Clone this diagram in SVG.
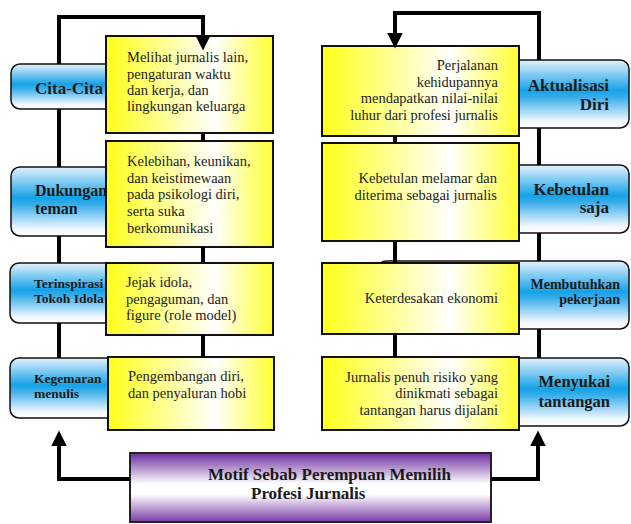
<svg xmlns="http://www.w3.org/2000/svg" width="631" height="524" viewBox="0 0 631 524">
<defs>
<linearGradient id="gBlue" x1="0" y1="0" x2="0" y2="1">
<stop offset="0" stop-color="#e4f1fc"/>
<stop offset="0.45" stop-color="#14a2e7"/>
<stop offset="0.55" stop-color="#3aaeea"/>
<stop offset="0.9" stop-color="#f2f8ff"/>
<stop offset="1" stop-color="#ffffff"/>
</linearGradient>
<linearGradient id="gYellow" x1="0" y1="0" x2="1" y2="0">
<stop offset="0" stop-color="#ffff1a"/>
<stop offset="0.65" stop-color="#ffffff"/>
<stop offset="1" stop-color="#ffff33"/>
</linearGradient>
<linearGradient id="gPurple" x1="0" y1="0" x2="0" y2="1">
<stop offset="0" stop-color="#6b2d9e"/>
<stop offset="0.45" stop-color="#ffffff"/>
<stop offset="0.6" stop-color="#ffffff"/>
<stop offset="1" stop-color="#7a3aa8"/>
</linearGradient>
<marker id="arrow" markerUnits="userSpaceOnUse" markerWidth="16" markerHeight="16" viewBox="0 0 15 15" refX="7" refY="7.5" orient="auto">
<path d="M0,0 L15,7.5 L0,15 z" fill="#000"/>
</marker>
</defs>
<style>
.blue{fill:url(#gBlue);stroke:#111;stroke-width:1.5}
.yel{fill:url(#gYellow);stroke:#111;stroke-width:2}
.pur{fill:url(#gPurple);stroke:#222;stroke-width:2}
.bt{font-family:"Liberation Serif","Times New Roman",serif;font-weight:bold;fill:#1a1a1a}
.yt{font-family:"Liberation Serif","Times New Roman",serif;font-size:14.5px;fill:#222}
.r{text-anchor:end}
.con{fill:none;stroke:#000;stroke-width:4}
</style>

<g id="node-cita-cita"><rect class="blue" x="11" y="64" width="130" height="45" rx="9"/><text class="bt" x="35" y="94" font-size="17">Cita-Cita</text></g>
<g id="node-dukungan-teman"><rect class="blue" x="11" y="167" width="130" height="69" rx="9"/><text class="bt" x="35" y="196" font-size="16">Dukungan</text><text class="bt" x="35" y="213.5" font-size="16">teman</text></g>
<g id="node-terinspirasi"><rect class="blue" x="10" y="263" width="130" height="60" rx="9"/><text class="bt" x="34" y="288" font-size="13.5">Terinspirasi</text><text class="bt" x="34" y="303" font-size="13.5">Tokoh Idola</text></g>
<g id="node-kegemaran"><rect class="blue" x="10" y="358" width="130" height="60" rx="9"/><text class="bt" x="34" y="383" font-size="13.5">Kegemaran</text><text class="bt" x="34" y="398" font-size="13.5">menulis</text></g>

<g id="node-aktualisasi"><rect class="blue" x="480" y="60" width="149" height="68" rx="9"/><text class="bt r" x="609" y="91" font-size="17">Aktualisasi</text><text class="bt r" x="609" y="110" font-size="17">Diri</text></g>
<g id="node-kebetulan"><rect class="blue" x="480" y="165" width="149" height="68" rx="9"/><text class="bt r" x="609" y="195" font-size="17">Kebetulan</text><text class="bt r" x="609" y="213" font-size="17">saja</text></g>
<g id="node-membutuhkan"><rect class="blue" x="377" y="261" width="252" height="68" rx="9"/><text class="bt r" x="620" y="289" font-size="14">Membutuhkan</text><text class="bt r" x="620" y="304" font-size="14">pekerjaan</text></g>
<g id="node-menyukai"><rect class="blue" x="480" y="358" width="149" height="68" rx="9"/><text class="bt r" x="610" y="387" font-size="16.5">Menyukai</text><text class="bt r" x="610" y="407" font-size="16.5">tantangan</text></g>

<g id="node-melihat"><rect class="yel" x="106" y="36" width="167" height="97"/><text class="yt" x="127" y="62">Melihat jurnalis lain,</text><text class="yt" x="127" y="78.5">pengaturan waktu</text><text class="yt" x="127" y="95">dan kerja, dan</text><text class="yt" x="127" y="111">lingkungan keluarga</text></g>
<g id="node-kelebihan"><rect class="yel" x="106" y="141" width="167" height="106"/><text class="yt" x="127" y="166">Kelebihan, keunikan,</text><text class="yt" x="127" y="182.7">dan keistimewaan</text><text class="yt" x="127" y="199.4">pada psikologi diri,</text><text class="yt" x="127" y="216">serta suka</text><text class="yt" x="127" y="232.7">berkomunikasi</text></g>
<g id="node-jejak"><rect class="yel" x="106" y="263" width="167" height="72"/><text class="yt" x="126" y="287">Jejak idola,</text><text class="yt" x="126" y="303.7">pengaguman, dan</text><text class="yt" x="126" y="320.4">figure (role model)</text></g>
<g id="node-pengembangan"><rect class="yel" x="108" y="357" width="166" height="73"/><text class="yt" x="128" y="381">Pengembangan diri,</text><text class="yt" x="128" y="398">dan penyaluran hobi</text></g>

<g id="node-perjalanan"><rect class="yel" x="322" y="46" width="197" height="90"/><text class="yt r" x="498" y="70">Perjalanan</text><text class="yt r" x="498" y="86.5">kehidupannya</text><text class="yt r" x="498" y="103">mendapatkan nilai-nilai</text><text class="yt r" x="498" y="119.5">luhur dari profesi jurnalis</text></g>
<g id="node-melamar"><rect class="yel" x="322" y="143" width="197" height="98"/><text class="yt r" x="497" y="183">Kebetulan melamar dan</text><text class="yt r" x="497" y="199.5">diterima sebagai jurnalis</text></g>
<g id="node-ekonomi"><rect class="yel" x="322" y="263" width="197" height="71"/><text class="yt r" x="498" y="303">Keterdesakan ekonomi</text></g>
<g id="node-risiko"><rect class="yel" x="322" y="357" width="197" height="73"/><text class="yt r" x="498" y="381.5">Jurnalis penuh risiko yang</text><text class="yt r" x="498" y="398">dinikmati sebagai</text><text class="yt r" x="498" y="415">tantangan harus dijalani</text></g>

<g id="node-motif"><rect class="pur" x="130" y="453" width="361" height="69"/><text class="bt" x="208" y="480" font-size="17">Motif Sebab Perempuan Memilih</text><text class="bt" x="251" y="499" font-size="17">Profesi Jurnalis</text></g>

<g id="connectors">
<path class="con" d="M59,64 V17 H203 V42" marker-end="url(#arrow)"/>
<path class="con" d="M59,109 V167 M59,236 V263 M59,323 V358"/>
<path class="con" d="M203,133 V141 M203,247 V263 M203,335 V357"/>
<path class="con" d="M539,60 V13 H395 V40" marker-end="url(#arrow)"/>
<path class="con" d="M539,128 V165 M539,233 V261 M539,329 V358"/>
<path class="con" d="M395,136 V143 M395,241 V263 M395,334 V357"/>
<path class="con" d="M130,479 H59 V439" marker-end="url(#arrow)"/>
<path class="con" d="M491,479 H538 V439" marker-end="url(#arrow)"/>
</g>
</svg>
